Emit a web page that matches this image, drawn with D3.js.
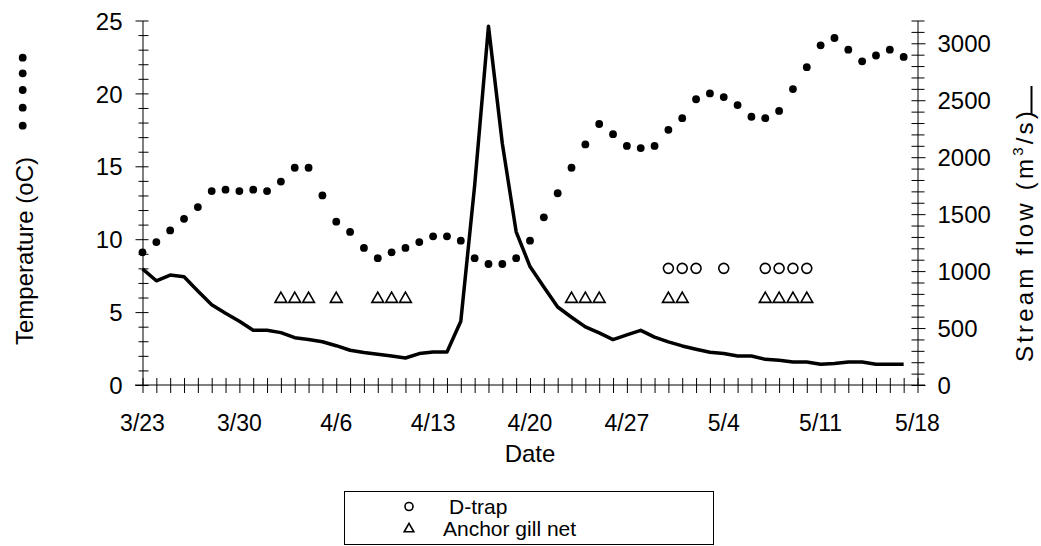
<!DOCTYPE html>
<html>
<head>
<meta charset="utf-8">
<script src="https://cdn.jsdelivr.net/npm/d3@7"></script>
<style>
  body { margin: 0; background: #fff; }
  text { font-family: "Liberation Sans", Arial, sans-serif; fill: #000; }
</style>
</head>
<body>
<div id="chart"></div>
<script>
// daily values, 3/23 (day 0) to 5/17 (day 55)
var dateLabels = ["3/23", "3/30", "4/6", "4/13", "4/20", "4/27", "5/4", "5/11", "5/18"];

var temperature = [9.1, 9.8, 10.6, 11.4, 12.2, 13.3, 13.4, 13.3, 13.4, 13.3,
  13.95, 14.9, 14.9, 13.0, 11.2, 10.5, 9.4, 8.7, 9.1, 9.4,
  9.8, 10.2, 10.2, 9.9, 8.7, 8.3, 8.3, 8.7, 9.9, 11.5,
  13.15, 14.9, 16.5, 17.9, 17.2, 16.4, 16.25, 16.4, 17.5, 18.3,
  19.6, 20.0, 19.75, 19.2, 18.4, 18.3, 18.8, 20.3, 21.8, 23.3,
  23.8, 23.0, 22.2, 22.6, 23.0, 22.5];

var flow = [1020, 915, 965, 950, 825, 705, 630, 560, 480, 480,
  460, 415, 400, 380, 345, 305, 285, 270, 255, 237,
  276, 290, 290, 560, 1750, 3150, 2120, 1345, 1040, 860,
  685, 595, 510, 457, 399, 440, 480, 420, 378, 343,
  314, 287, 276, 255, 255, 225, 217, 202, 202, 182,
  188, 202, 202, 182, 182, 182];

// sampling days, drawn at fixed heights on the temperature axis
var dTrapDays = [38, 39, 40, 42, 45, 46, 47, 48];
var gillNetDays = [10, 11, 12, 14, 17, 18, 19, 31, 32, 33, 38, 39, 45, 46, 47, 48];
var dTrapLevel = 8;
var gillNetLevel = 6;

var width = 1041, height = 546;

var svg = d3.select("#chart").append("svg")
  .attr("width", width)
  .attr("height", height);

var x = d3.scaleLinear().domain([0, 56]).range([142.5, 917.5]);
var yT = d3.scaleLinear().domain([0, 25]).range([385, 20.5]);
var yF = d3.scaleLinear().domain([0, 3200]).range([385, 20.5]);

// x axis: a tick every day, label every week
var xAxis = svg.append("g")
  .attr("transform", "translate(0,385)")
  .call(d3.axisBottom(x).tickValues(d3.range(0, 57)).tickSize(0).tickFormat(""));
xAxis.select(".domain").remove();
xAxis.selectAll(".tick line").attr("y1", -7).attr("y2", 8).attr("stroke", "#000");
svg.append("line")
  .attr("x1", 135).attr("x2", 925).attr("y1", 385).attr("y2", 385)
  .attr("stroke", "#000");

svg.append("g").selectAll("text")
  .data(dateLabels)
  .enter().append("text")
  .attr("x", function(d, i) { return x(i * 7); })
  .attr("y", 431)
  .attr("text-anchor", "middle")
  .attr("font-size", 23)
  .text(function(d) { return d; });

// left axis
var leftAxis = svg.append("g")
  .attr("transform", "translate(142.5,0)")
  .call(d3.axisLeft(yT).tickValues(d3.range(0, 26)).tickSize(0).tickFormat(""));
leftAxis.select(".domain").attr("stroke", "#000");
leftAxis.selectAll(".tick line")
  .attr("x1", function(d) { return d % 5 === 0 ? -7 : -4; })
  .attr("x2", 6)
  .attr("stroke", "#000");
leftAxis.selectAll(".tick").filter(function(d) { return d % 5 === 0; })
  .append("text")
  .attr("x", -20)
  .attr("dy", "0.36em")
  .attr("text-anchor", "end")
  .attr("font-size", 24)
  .text(function(d) { return d; });

// right axis
var rightAxis = svg.append("g")
  .attr("transform", "translate(917.5,0)")
  .call(d3.axisRight(yF).tickValues(d3.range(0, 3201, 100)).tickSize(0).tickFormat(""));
rightAxis.select(".domain").attr("stroke", "#000");
rightAxis.selectAll(".tick line")
  .attr("x1", -6)
  .attr("x2", function(d) { return d % 500 === 0 ? 8 : 7; })
  .attr("stroke", "#000");
rightAxis.selectAll(".tick").filter(function(d) { return d % 500 === 0; })
  .append("text")
  .attr("x", 20)
  .attr("dy", "0.36em")
  .attr("text-anchor", "start")
  .attr("font-size", 24)
  .text(function(d) { return d; });

// stream flow line
var line = d3.line()
  .x(function(d, i) { return x(i); })
  .y(function(d) { return yF(d); });

svg.append("path")
  .datum(flow)
  .attr("d", line)
  .attr("fill", "none")
  .attr("stroke", "#000")
  .attr("stroke-width", 3.5)
  .attr("stroke-linejoin", "round");

// temperature dots
svg.append("g").selectAll("circle")
  .data(temperature)
  .enter().append("circle")
  .attr("cx", function(d, i) { return x(i); })
  .attr("cy", function(d) { return yT(d); })
  .attr("r", 3.9)
  .attr("fill", "#000");

// D-trap circles
svg.append("g").selectAll("circle")
  .data(dTrapDays)
  .enter().append("circle")
  .attr("cx", function(d) { return x(d); })
  .attr("cy", yT(dTrapLevel))
  .attr("r", 5)
  .attr("fill", "none")
  .attr("stroke", "#000")
  .attr("stroke-width", 1.6);

// anchor gill net triangles
var tri = d3.symbol().type(d3.symbolTriangle).size(60);
svg.append("g").selectAll("path")
  .data(gillNetDays)
  .enter().append("path")
  .attr("d", tri)
  .attr("transform", function(d) { return "translate(" + x(d) + "," + (yT(gillNetLevel) + 1.5) + ")"; })
  .attr("fill", "none")
  .attr("stroke", "#000")
  .attr("stroke-width", 1.6);

// axis titles
svg.append("text")
  .attr("x", 530).attr("y", 462)
  .attr("text-anchor", "middle")
  .attr("font-size", 24)
  .text("Date");

svg.append("text")
  .attr("transform", "translate(33,251) rotate(-90)")
  .attr("text-anchor", "middle")
  .attr("font-size", 24)
  .text("Temperature (oC)");

svg.append("g").selectAll("circle")
  .data([57.7, 73.3, 90, 107.7, 125.7])
  .enter().append("circle")
  .attr("cx", 22.7)
  .attr("cy", function(d) { return d; })
  .attr("r", 3.9)
  .attr("fill", "#000");

var flowTitle = svg.append("text")
  .attr("transform", "translate(1033,362) rotate(-90)")
  .attr("font-size", 24)
  .attr("letter-spacing", 3.2);
flowTitle.append("tspan").text("Stream flow (m");
flowTitle.append("tspan").attr("font-size", 15).attr("dy", -10).text("3");
flowTitle.append("tspan").attr("dy", 10).text("/s)");
svg.append("line")
  .attr("x1", 1031.5).attr("x2", 1031.5).attr("y1", 115).attr("y2", 86)
  .attr("stroke", "#000").attr("stroke-width", 2);

// legend
var legend = svg.append("g");
legend.append("rect")
  .attr("x", 344.5).attr("y", 491.5)
  .attr("width", 369).attr("height", 53)
  .attr("fill", "none")
  .attr("stroke", "#000")
  .attr("stroke-width", 1);
legend.append("circle")
  .attr("cx", 409).attr("cy", 506.5).attr("r", 4)
  .attr("fill", "none").attr("stroke", "#000").attr("stroke-width", 1.6);
legend.append("path")
  .attr("d", d3.symbol().type(d3.symbolTriangle).size(40))
  .attr("transform", "translate(409,529)")
  .attr("fill", "none").attr("stroke", "#000").attr("stroke-width", 1.6);
legend.append("text")
  .attr("x", 449).attr("y", 514)
  .attr("font-size", 21)
  .text("D-trap");
legend.append("text")
  .attr("x", 443).attr("y", 536)
  .attr("font-size", 21)
  .text("Anchor gill net");
</script>
</body>
</html>
